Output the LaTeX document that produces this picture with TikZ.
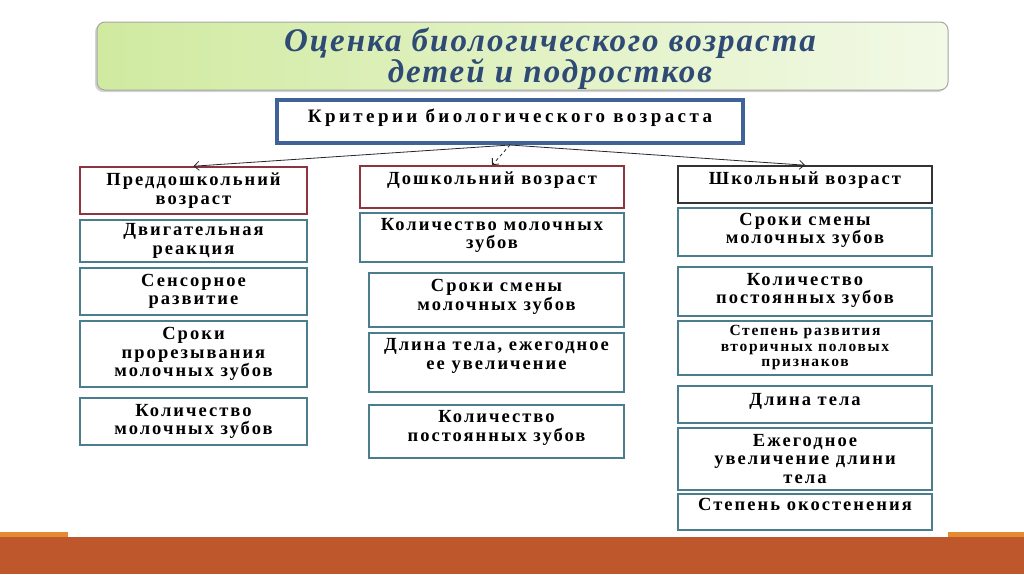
\documentclass[tikz,border=0pt]{standalone}
\usepackage{fontspec}
\setmainfont{Liberation Serif}
\newfontfamily\boxfont[LetterSpace=11]{Liberation Serif}
\newfontfamily\critfont[LetterSpace=18]{Liberation Serif}
\newfontfamily\titlefont[LetterSpace=6]{Liberation Serif}
\newcommand\titlesetup{\titlefont\bfseries\itshape\fontsize{33}{31}\selectfont\lineskiplimit=-30pt\relax}
\usetikzlibrary{arrows.meta,positioning,shadows}

\definecolor{titleblue}{RGB}{46,74,117}
\definecolor{critblue}{RGB}{63,99,152}
\definecolor{headred}{RGB}{142,52,64}
\definecolor{itemteal}{RGB}{76,125,140}
\definecolor{bannerleft}{RGB}{208,234,160}
\definecolor{bannerright}{RGB}{242,249,230}
\definecolor{bandorange}{RGB}{190,88,44}
\definecolor{striporange}{RGB}{228,139,50}

\begin{document}
\begin{tikzpicture}[x=1pt,y=-1pt,
  txt/.style={font=\boxfont\bfseries\fontsize{18.5}{18.5}\selectfont, align=center, inner sep=0pt},
  head/.style={txt, draw=headred, line width=1.6pt, fill=white},
  item/.style={txt, draw=itemteal, line width=1.6pt, fill=white},
  lift/.style={text depth=#1}]
\useasboundingbox (0,0) rectangle (1024,574);

% Title banner
\node[draw=gray!70, line width=1pt, rounded corners=8pt, left color=bannerleft, right color=bannerright,
      drop shadow={shadow xshift=-2pt, shadow yshift=-2pt, opacity=0.35},
      minimum width=851pt, minimum height=68pt] (banner) at (522.5,56) {};
\node[font=\titlesetup, text=titleblue, align=center] (title) at (550,59)
  {Оценка биологического возраста\\детей и подростков};

% Criteria
\node[txt, font=\critfont\bfseries\fontsize{19}{19}\selectfont, draw=critblue, line width=4pt, fill=white,
      minimum width=466pt, minimum height=43pt, lift=12pt] (crit) at (510,121.5)
  {Критерии биологического возраста};

% Age groups
\node[head, minimum width=227pt, minimum height=47pt] (pre) at (193.5,190.5) {Преддошкольний\\возраст};
\node[head, minimum width=264pt, minimum height=42pt, lift=17pt] (dosh) at (492,187) {Дошкольний возраст};
\node[head, draw=black!80, minimum width=254pt, minimum height=37pt, lift=13pt] (shk) at (805,184.5) {Школьный возраст};

\draw[-{Straight Barb[length=5pt,width=9pt]}, black!85, line width=0.8pt] (crit.south) -- (pre.north);
\draw[-{Straight Barb[length=5pt,width=9pt]}, black!85, line width=0.8pt, dashed] (crit.south) -- (dosh.north);
\draw[-{Straight Barb[length=5pt,width=9pt]}, black!85, line width=0.8pt] (crit.south) -- (shk.north);

% Pre-preschool criteria
\node[item, minimum width=227pt, minimum height=42pt] (pre1) at (193.5,241) {Двигательная\\реакция};
\node[item, minimum width=227pt, minimum height=47pt] (pre2) at (193.5,291.5) {Сенсорное\\развитие};
\node[item, minimum width=227pt, minimum height=66pt] (pre3) at (193.5,354) {Сроки\\прорезывания\\молочных зубов};
\node[item, minimum width=227pt, minimum height=47pt] (pre4) at (193.5,421.5) {Количество\\молочных зубов};

% Preschool criteria
\node[item, minimum width=264pt, minimum height=49pt, lift=8pt] (dosh1) at (492,237.5) {Количество молочных\\зубов};
\node[item, minimum width=255pt, minimum height=54pt, lift=10pt] (dosh2) at (496.5,300) {Сроки смены\\молочных зубов};
\node[item, minimum width=255pt, minimum height=59pt, lift=17pt] (dosh3) at (496.5,362.5) {Длина тела, ежегодное\\ее увеличение};
\node[item, minimum width=255pt, minimum height=53pt, lift=11pt] (dosh4) at (496.5,431.5) {Количество\\постоянных зубов};

% School criteria
\node[item, minimum width=254pt, minimum height=48pt, lift=7pt] (shk1) at (805,232) {Сроки смены\\молочных зубов};
\node[item, minimum width=254pt, minimum height=49pt, lift=6pt] (shk2) at (805,291.5) {Количество\\постоянных зубов};
\node[item, minimum width=254pt, minimum height=54pt, font=\boxfont\bfseries\fontsize{15.5}{15.5}\selectfont] (shk3) at (805,348)
  {Степень развития\\вторичных половых\\признаков};
\node[item, minimum width=254pt, minimum height=37pt, lift=11pt] (shk4) at (805,404.5) {Длина тела};
\node[item, minimum width=254pt, minimum height=62pt] (shk5) at (805,459) {Ежегодное\\увеличение длини\\тела};
\node[item, minimum width=254pt, minimum height=36pt, lift=15pt] (shk6) at (805,512) {Степень окостенения};

% Footer band
\fill[bandorange] (0,537) rectangle (1024,574);
\fill[striporange] (0,532) rectangle (68,537);
\fill[striporange] (948,532) rectangle (1024,537);
\end{tikzpicture}
\end{document}
